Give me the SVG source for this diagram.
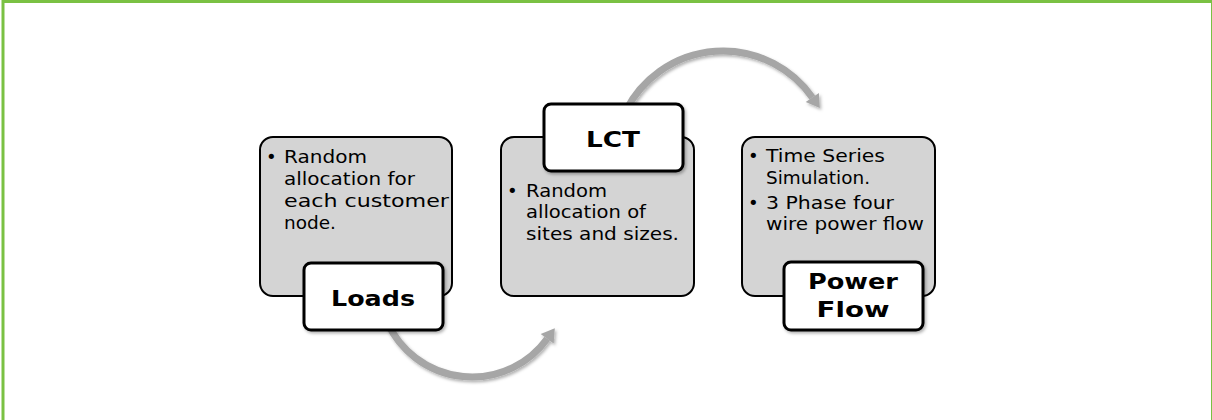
<svg xmlns="http://www.w3.org/2000/svg" width="1212" height="420" viewBox="0 0 1212 420">
<style>
.frame{fill:#ffffff;stroke:#7ac143;stroke-width:3}
.gbox{fill:#d4d4d4;stroke:#000;stroke-width:2}
.wbox{fill:#fff;stroke:#000;stroke-width:3}
.arc{fill:none;stroke:#a6a6a6;stroke-width:7}
.head{fill:#a6a6a6}
.t{font-family:"DejaVu Sans","Verdana",sans-serif;font-size:18px;fill:#000}
.b{font-family:"DejaVu Sans","Verdana",sans-serif;font-size:22px;font-weight:bold;fill:#000;text-anchor:middle}
</style>
<defs>
<filter id="sh" x="-10%" y="-10%" width="130%" height="130%">
<feDropShadow dx="1.5" dy="2" stdDeviation="1.5" flood-color="#000" flood-opacity="0.3"/>
</filter>
</defs>
<rect class="frame" x="3" y="1.5" width="1209.5" height="440"/>
<g id="connectors" filter="url(#sh)">
<path class="arc" d="M 387.7 323.3 A 93 93 0 0 0 547.2 338.7"/>
<polygon class="head" points="554.8,328.2 553.7,343.4 540.7,334.0"/>
<path class="arc" d="M 625.9 110.5 A 109 109 0 0 1 812.3 97.5"/>
<polygon class="head" points="819.8,108.1 818.9,92.9 805.7,102.1"/>
</g>
<g id="loads">
<rect class="gbox" x="260" y="137" width="192" height="159" rx="13"/>
<text class="t" x="266" y="163">•</text>
<text class="t" x="284" y="163" textLength="83" lengthAdjust="spacingAndGlyphs">Random</text>
<text class="t" x="284" y="185" textLength="131" lengthAdjust="spacingAndGlyphs">allocation for</text>
<text class="t" x="284" y="207" textLength="165" lengthAdjust="spacingAndGlyphs">each customer</text>
<text class="t" x="284" y="229" textLength="52" lengthAdjust="spacingAndGlyphs">node.</text>
<rect class="wbox" x="304" y="263" width="139" height="67" rx="7" filter="url(#sh)"/>
<text class="b" x="373" y="306" textLength="84" lengthAdjust="spacingAndGlyphs">Loads</text>
</g>
<g id="lct">
<rect class="gbox" x="501" y="137" width="193" height="159" rx="13"/>
<text class="t" x="507" y="197">•</text>
<text class="t" x="526" y="197" textLength="81" lengthAdjust="spacingAndGlyphs">Random</text>
<text class="t" x="526" y="218" textLength="120" lengthAdjust="spacingAndGlyphs">allocation of</text>
<text class="t" x="526" y="240" textLength="153" lengthAdjust="spacingAndGlyphs">sites and sizes.</text>
<rect class="wbox" x="544" y="104" width="139" height="67" rx="7" filter="url(#sh)"/>
<text class="b" x="613" y="147" textLength="54" lengthAdjust="spacingAndGlyphs">LCT</text>
</g>
<g id="powerflow">
<rect class="gbox" x="742" y="137" width="193" height="159" rx="13"/>
<text class="t" x="748" y="162">•</text>
<text class="t" x="766" y="162" textLength="119" lengthAdjust="spacingAndGlyphs">Time Series</text>
<text class="t" x="766" y="184" textLength="104" lengthAdjust="spacingAndGlyphs">Simulation.</text>
<text class="t" x="748" y="209">•</text>
<text class="t" x="766" y="209" textLength="128" lengthAdjust="spacingAndGlyphs">3 Phase four</text>
<text class="t" x="766" y="230" textLength="158" lengthAdjust="spacingAndGlyphs">wire power flow</text>
<rect class="wbox" x="784" y="262" width="139" height="68" rx="7" filter="url(#sh)"/>
<text class="b" x="853" y="289" textLength="90" lengthAdjust="spacingAndGlyphs">Power</text>
<text class="b" x="853" y="317" textLength="73" lengthAdjust="spacingAndGlyphs">Flow</text>
</g>
</svg>
